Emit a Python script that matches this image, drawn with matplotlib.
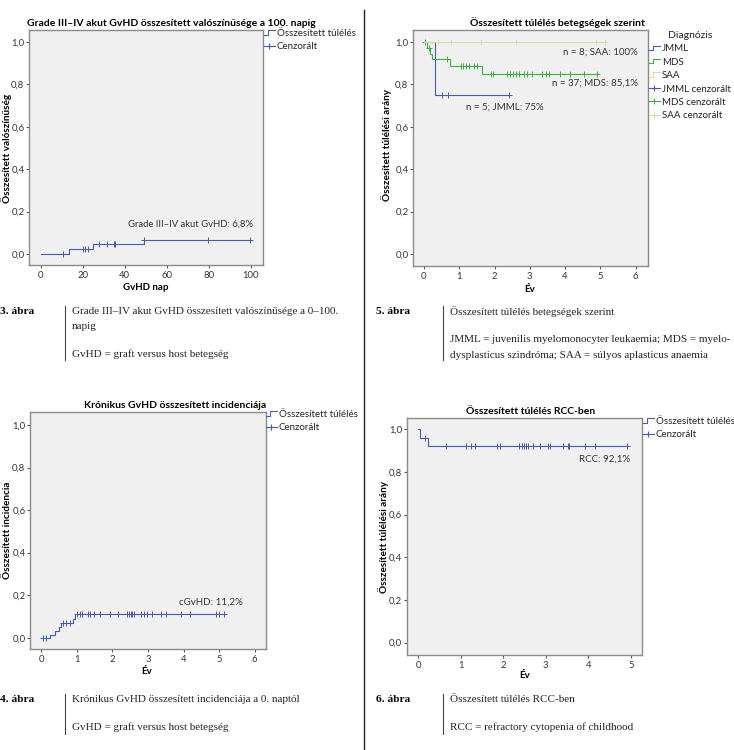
import numpy as np
import matplotlib
matplotlib.use("Agg")
import matplotlib.pyplot as plt
from matplotlib.lines import Line2D
from matplotlib.legend_handler import HandlerBase
from matplotlib.ticker import FuncFormatter

W, H = 734, 750

# 3. abra - akut GvHD (nap)
agvhd_t = [0, 13.7, 24.8, 49.0, 99.5]
agvhd_y = [0, 0.0227, 0.0455, 0.068, 0.068]
agvhd_cens = [10.6, 20.0, 21.3, 22.4, 27.6, 31.6, 34.7, 35.5, 49.3, 79.8, 99.5]

# 5. abra - tulelés diagnozis szerint (ev)
jmml_t = [0, 0.31, 2.41]
jmml_y = [1.0, 0.75, 0.75]
jmml_cens = [0.5, 0.69, 2.41]
mds_t = [0, 0.09, 0.17, 0.24, 0.73, 1.65, 4.91]
mds_y = [1.0, 0.973, 0.946, 0.919, 0.887, 0.851, 0.851]
mds_cens = [0.02, 0.15, 0.64, 1.04, 1.11, 1.18, 1.27, 1.42, 1.49, 1.89, 1.95,
            2.36, 2.45, 2.53, 2.6, 2.69, 2.83, 2.92, 3.07, 3.35, 3.47, 3.54,
            3.87, 4.15, 4.53, 4.91]
saa_t = [0, 5.13]
saa_y = [1.0, 1.0]
saa_cens = [0.39, 0.76, 1.61, 2.6, 4.87, 5.13]

# 4. abra - kronikus GvHD (ev)
cgvhd_t = [0, 0.25, 0.39, 0.49, 0.54, 0.89, 0.94, 5.15]
cgvhd_y = [0, 0.014, 0.033, 0.05, 0.067, 0.09, 0.112, 0.112]
cgvhd_cens = [0.05, 0.14, 0.61, 0.7, 0.8, 1.0, 1.08, 1.15, 1.3, 1.38, 1.49,
              1.66, 1.92, 2.15, 2.41, 2.46, 2.51, 2.56, 2.6, 2.79, 2.88, 2.98,
              3.12, 3.37, 3.52, 3.92, 4.18, 4.9, 5.0, 5.15]

# 6. abra - RCC (ev)
rcc_t = [0, 0.03, 0.23, 4.92]
rcc_y = [1.0, 0.961, 0.921, 0.921]
rcc_cens = [0.15, 0.64, 1.13, 1.25, 1.33, 1.86, 1.92, 2.37, 2.43, 2.48, 2.53,
            2.59, 2.7, 2.86, 3.06, 3.11, 3.41, 3.53, 3.55, 3.92, 4.16, 4.92]

yticks = [0.0, 0.2, 0.4, 0.6, 0.8, 1.0]

BLUE = "#4a5bab"
GREEN = "#3fae49"
SAA_C = "#dcdba6"
FACE = "#f0f0f0"
EDGE = "#8a8a8a"
SANS = ["Lato", "DejaVu Sans"]
SERIF = ["Liberation Serif", "DejaVu Serif"]

plt.rcParams["font.family"] = SANS


def fx(px):
    return px / W


def fy(py):
    return 1 - py / H


class StepHandler(HandlerBase):
    # SPSS-like step symbol in legend
    def create_artists(self, legend, orig_handle, xdescent, ydescent, width, height, fontsize, trans):
        x0, y0 = -xdescent, -ydescent
        xs = [x0, x0 + 0.4 * width, x0 + 0.4 * width, x0 + width]
        ys = [y0 + 0.2 * height, y0 + 0.2 * height, y0 + 0.85 * height, y0 + 0.85 * height]
        ln = Line2D(xs, ys, color=orig_handle.get_color(), lw=orig_handle.get_linewidth())
        ln.set_transform(trans)
        return [ln]


def km(ax, t, y, cens, color):
    ax.step(t, y, where="post", color=color, lw=0.8)
    idx = np.searchsorted(t, cens, side="right") - 1
    cy = np.asarray(y)[idx]
    ax.plot(cens, cy, ls="none", marker="+", ms=4, mew=0.7, color=color)


def make_ax(l, r, t, b, xlim, ylim, xticks):
    ax = fig.add_axes([fx(l), fy(b), fx(r) - fx(l), fy(t) - fy(b)])
    ax.set_facecolor(FACE)
    for s in ax.spines.values():
        s.set_color(EDGE)
        s.set_linewidth(1.0)
    ax.set_xlim(*xlim)
    ax.set_ylim(*ylim)
    ax.set_xticks(xticks)
    ax.set_yticks(yticks)
    ax.yaxis.set_major_formatter(FuncFormatter(lambda v, p: ("%.1f" % v).replace(".", ",")))
    ax.tick_params(direction="out", length=2.5, width=0.8, color="#555555",
                   labelsize=6.8, labelcolor="#333333", pad=0.8)
    ax.tick_params(axis="x", pad=2)
    return ax


def surv_legend(ax, x, y, entries, title=None):
    handles, labels, hmap = [], [], {}
    for lab, col, cens in entries:
        if cens:
            h = Line2D([], [], color=col, lw=0.8, marker="+", ms=5, mew=0.8)
        else:
            h = Line2D([], [], color=col, lw=0.8)
            hmap[h] = StepHandler()
        handles.append(h)
        labels.append(lab)
    leg = ax.legend(handles, labels, loc="upper left", bbox_to_anchor=(fx(x), fy(y)),
                    bbox_transform=fig.transFigure, frameon=False, fontsize=7,
                    handlelength=1.1, handletextpad=0.2, labelspacing=0.45,
                    borderpad=0, borderaxespad=0, handler_map=hmap, numpoints=1,
                    title=title, title_fontsize=7.5)
    for txt in leg.get_texts():
        txt.set_color("#222222")
    if title:
        leg.get_title().set_color("#222222")
    return leg


fig = plt.figure(figsize=(W / 100, H / 100), dpi=100)

# ---- 3. abra
ax1 = make_ax(29, 263, 30, 265, (-5.57, 105.86), (-0.052, 1.057), [0, 20, 40, 60, 80, 100])
km(ax1, agvhd_t, agvhd_y, agvhd_cens, BLUE)
ax1.text(101.1, 0.14, "Grade III–IV akut GvHD: 6,8%", ha="right", va="center", fontsize=6.8, color="#333333")
surv_legend(ax1, 264, 29, [("Összesített túlélés", BLUE, False), ("Cenzorált", BLUE, True)])
fig.text(fx(171), fy(23), "Grade III–IV akut GvHD összesített valószínűsége a 100. napig",
         ha="center", va="center", fontsize=7.5, fontweight="bold")
fig.text(fx(7), fy(148), "Összesített valószínűség", rotation=90, ha="center", va="center",
         fontsize=7.2, fontweight="bold")
fig.text(fx(146), fy(288), "GvHD nap", ha="center", va="center", fontsize=7, fontweight="bold")

# ---- 5. abra
ax2 = make_ax(413, 648, 30, 266, (-0.31, 6.35), (-0.057, 1.057), [0, 1, 2, 3, 4, 5, 6])
km(ax2, jmml_t, jmml_y, jmml_cens, BLUE)
km(ax2, mds_t, mds_y, mds_cens, GREEN)
km(ax2, saa_t, saa_y, saa_cens, SAA_C)
ax2.text(6.06, 0.953, "n = 8; SAA: 100%", ha="right", va="center", fontsize=7, color="#333333")
ax2.text(6.06, 0.807, "n = 37; MDS: 85,1%", ha="right", va="center", fontsize=7, color="#333333")
ax2.text(2.28, 0.693, "n = 5; JMML: 75%", ha="center", va="center", fontsize=7, color="#333333")
surv_legend(ax2, 649, 31, [("JMML", BLUE, False), ("MDS", GREEN, False), ("SAA", SAA_C, False),
                           ("JMML cenzorált", BLUE, True), ("MDS cenzorált", GREEN, True),
                           ("SAA cenzorált", SAA_C, True)], title="Diagnózis")
fig.text(fx(557), fy(23), "Összesített túlélés betegségek szerint",
         ha="center", va="center", fontsize=7.5, fontweight="bold")
fig.text(fx(387), fy(145), "Összesített túlélési arány", rotation=90, ha="center", va="center",
         fontsize=7.2, fontweight="bold")
fig.text(fx(530), fy(289), "Év", ha="center", va="center", fontsize=7, fontweight="bold")

# ---- 4. abra
ax3 = make_ax(30, 265.7, 412, 649, (-0.318, 6.31), (-0.053, 1.061), [0, 1, 2, 3, 4, 5, 6])
km(ax3, cgvhd_t, cgvhd_y, cgvhd_cens, BLUE)
ax3.text(5.66, 0.169, "cGvHD: 11,2%", ha="right", va="center", fontsize=7, color="#333333")
surv_legend(ax3, 266, 410, [("Összesített túlélés", BLUE, False), ("Cenzorált", BLUE, True)])
fig.text(fx(175.5), fy(405), "Krónikus GvHD összesített incidenciája",
         ha="center", va="center", fontsize=7.5, fontweight="bold")
fig.text(fx(8), fy(530), "Összesített incidencia", rotation=90, ha="center", va="center",
         fontsize=7.2, fontweight="bold")
fig.text(fx(147), fy(672), "Év", ha="center", va="center", fontsize=7, fontweight="bold")

# ---- 6. abra
ax4 = make_ax(406.7, 642.3, 418, 655, (-0.273, 5.27), (-0.058, 1.053), [0, 1, 2, 3, 4, 5])
km(ax4, rcc_t, rcc_y, rcc_cens, BLUE)
ax4.text(4.98, 0.86, "RCC: 92,1%", ha="right", va="center", fontsize=7, color="#333333")
surv_legend(ax4, 643, 417, [("Összesített túlélés", BLUE, False), ("Cenzorált", BLUE, True)])
fig.text(fx(531), fy(412), "Összesített túlélés RCC-ben",
         ha="center", va="center", fontsize=7.5, fontweight="bold")
fig.text(fx(384), fy(537), "Összesített túlélési arány", rotation=90, ha="center", va="center",
         fontsize=7.2, fontweight="bold")
fig.text(fx(525), fy(676), "Év", ha="center", va="center", fontsize=7, fontweight="bold")

# ---- abrafeliratok
def caption(x, y, label, lines, bar):
    fig.text(fx(x), fy(y), label, ha="left", va="center", fontsize=8.2, fontweight="bold",
             family=SERIF)
    bx = 65 if x < 100 else 443
    fig.add_artist(Line2D([fx(bx), fx(bx)], [fy(bar[0]), fy(bar[1])], color="#444444", lw=0.8))
    for ly, txt in lines:
        fig.text(fx(bx + 7), fy(ly), txt, ha="left", va="center", fontsize=8, family=SERIF,
                 color="#222222")


caption(0, 312, "3. ábra", [(312, "Grade III–IV akut GvHD összesített valószínűsége a 0–100."),
                            (327, "napig"), (354, "GvHD = graft versus host betegség")], (306, 360))
caption(376, 312, "5. ábra", [(312, "Összesített túlélés betegségek szerint"),
                              (340, "JMML = juvenilis myelomonocyter leukaemia; MDS = myelo-"),
                              (355, "dysplasticus szindróma; SAA = súlyos aplasticus anaemia")], (306, 360))
caption(0, 700, "4. ábra", [(700, "Krónikus GvHD összesített incidenciája a 0. naptól"),
                            (727, "GvHD = graft versus host betegség")], (694, 734))
caption(376, 700, "6. ábra", [(700, "Összesített túlélés RCC-ben"),
                              (727, "RCC = refractory cytopenia of childhood")], (694, 734))

fig.add_artist(Line2D([fx(364), fx(364)], [fy(10), fy(750)], color="#222222", lw=1.0))

fig.savefig("out.png", dpi=100)
